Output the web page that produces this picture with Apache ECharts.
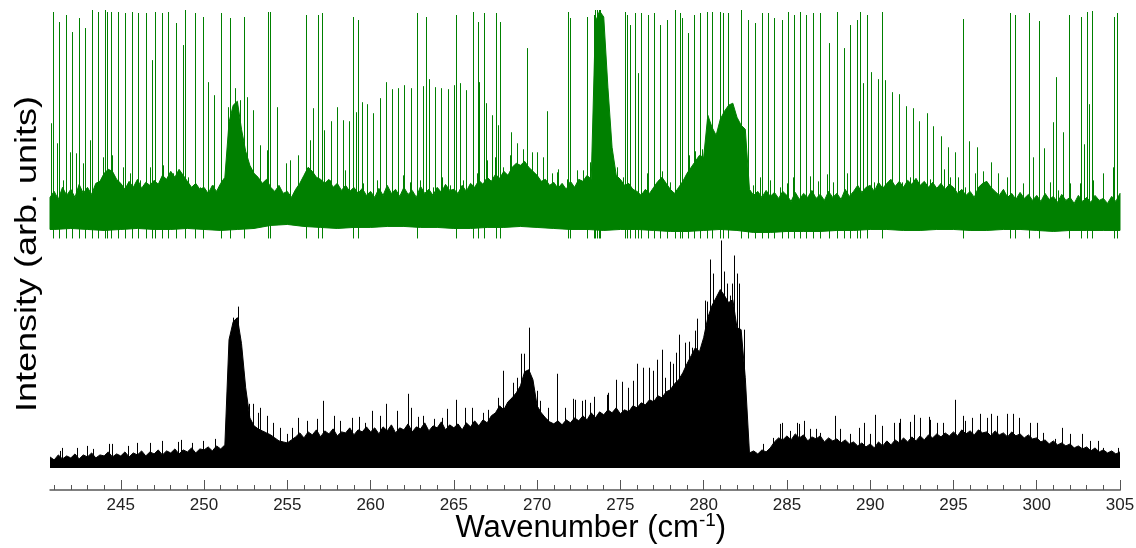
<!DOCTYPE html>
<html>
<head>
<meta charset="utf-8">
<script src="https://cdn.jsdelivr.net/npm/echarts@6/dist/echarts.min.js"></script>
<style>
  html, body { margin: 0; padding: 0; background: #fff; }
  #chart { width: 1136px; height: 548px; }
</style>
</head>
<body>
<div id="chart"></div>
<script>
// Sampling grid of both spectra (cm-1)
const wnStart = 240.75;
const wnStep = 0.25;
const wnEnd = 305;

// Lower spectrum: body of the black trace, one value per 0.25 cm-1
const blackBody = [
  11, 8, 13, 9, 12, 10, 14, 9, 13, 11, 15, 10, 13, 12, 16, 11, 14,
  12, 16, 11, 15, 13, 17, 12, 16, 14, 18, 13, 17, 15, 19, 14, 18, 16, 20, 15, 19,
  18, 21, 17, 22, 19, 23, 128, 146, 150, 124, 80, 50, 42, 39, 37, 35, 33, 30, 27, 26,
  25, 28, 31, 35, 30, 36, 33, 38, 31, 37, 34, 39, 32, 36, 35, 40, 33, 38, 36, 41,
  36, 40, 34, 41, 37, 43, 35, 40, 38, 44, 36, 41, 39, 45, 37, 42, 40, 46, 38, 43,
  40, 44, 38, 45, 41, 47, 42, 48, 45, 52, 55, 62, 58, 66, 70, 75, 82, 96, 98, 88,
  62, 55, 50, 46, 44, 47, 43, 48, 45, 50, 47, 52, 48, 55, 50, 56, 53, 58, 55, 60,
  54, 58, 56, 62, 60, 65, 63, 68, 66, 72, 70, 76, 78, 84, 88, 95, 104, 112, 120, 116,
  130, 150, 162, 170, 178, 172, 165, 168, 140, 138, 90, 15, 17, 14, 18, 16, 20, 26, 30, 28,
  32, 28, 34, 30, 33, 27, 31, 29, 32, 26, 30, 27, 29, 25, 28, 24, 26, 22, 25, 21,
  24, 20, 26, 22, 27, 23, 28, 25, 30, 26, 31, 27, 32, 28, 33, 30, 34, 31, 35, 32,
  36, 32, 38, 34, 37, 33, 38, 35, 36, 32, 37, 33, 35, 31, 36, 32, 34, 30, 33, 29,
  30, 26, 28, 24, 27, 23, 25, 22, 24, 20, 22, 19, 21, 17, 20, 16, 18, 15, 17, 14, 16
];

// Upper spectrum (offset): top of the dense green band, same grid
const greenTop = [
  270, 276, 268, 280, 272, 278, 270, 283, 274, 280, 273, 284, 286, 294, 298, 296, 288,
  284, 278, 286, 280, 288, 279, 285, 282, 287, 283, 292, 288, 296, 290, 298, 292, 286, 280, 284, 278,
  280, 274, 282, 276, 284, 290, 345, 362, 366, 338, 316, 302, 294, 290, 284, 288, 280, 276, 282, 274,
  276, 270, 278, 284, 292, 300, 296, 290, 288, 284, 288, 280, 284, 277, 282, 276, 280, 274, 279, 272,
  276, 270, 279, 272, 282, 274, 278, 271, 280, 273, 277, 270, 281, 274, 278, 272, 280, 275, 283, 277,
  278, 274, 282, 276, 284, 280, 287, 283, 290, 286, 293, 289, 296, 292, 300, 304, 302, 306, 300, 296,
  292, 286, 288, 282, 285, 279, 284, 278, 286, 280, 288, 286, 292, 288, 445, 456, 450, 380, 320, 292,
  288, 282, 284, 278, 276, 272, 278, 274, 280, 286, 290, 284, 278, 274, 280, 286, 294, 300, 306, 312,
  310, 352, 340, 332, 348, 356, 362, 364, 350, 342, 338, 278, 272, 276, 270, 277, 271, 275, 269, 276,
  272, 266, 275, 268, 274, 270, 277, 269, 273, 267, 276, 270, 274, 268, 278, 271, 276, 282, 275, 280,
  282, 276, 285, 279, 284, 288, 281, 286, 280, 287, 283, 289, 282, 286, 280, 285, 279, 284, 278, 283,
  280, 274, 278, 272, 276, 270, 280, 284, 286, 280, 276, 272, 278, 270, 274, 268, 275, 269, 273, 267,
  272, 266, 274, 268, 271, 265, 273, 267, 270, 264, 272, 266, 270, 265, 272, 267, 269, 264, 271, 266, 274
];

// Lower edge of the green band, one value per 1 cm-1 from 241
const greenLowStart = 241;
const greenLow = [
  238, 239, 238, 237, 238, 239, 238, 238, 239, 238, 237, 238, 239,
  242, 243, 241, 240,
  239, 240, 240, 241, 241, 240, 240, 239, 239, 240, 240, 241, 240, 239, 238,
  238, 237, 238, 238, 237, 236, 236, 237, 238, 237, 235, 235, 236, 236, 236, 237,
  237, 238, 238, 237, 237, 238, 238, 237, 237, 238, 238, 237, 236, 237, 237, 237, 237
];

// Where the tall green lines start, and where the shorter ones start
const greenDip = 229;
const greenMidBase = 265;

// Sharp lines of the black trace: [wavenumber, top]
const blackSpikes = [
  [241.35, 17], [241.5, 20], [242.35, 20], [243.0, 22], [243.35, 19], [244.3, 24], [244.45, 24],
  [245.45, 22], [246.0, 25], [246.75, 25], [247.46, 25], [247.5, 27], [248.46, 26], [248.6, 28],
  [249.26, 25], [249.95, 27], [250.66, 29], [251.75, 150], [252.04, 161], [252.7, 64], [252.95, 64],
  [253.25, 55], [253.36, 60], [253.8, 52], [254.15, 45], [254.56, 40], [254.96, 34], [255.26, 40],
  [255.65, 50], [256.17, 47], [256.8, 49], [257.15, 67], [257.8, 52], [258.17, 47], [258.87, 50],
  [259.3, 51], [259.67, 45], [260.1, 57], [260.57, 52], [260.9, 64], [261.57, 57], [262.25, 74],
  [262.4, 60], [262.85, 51], [263.17, 52], [263.8, 49], [264.27, 50], [264.57, 59], [265.1, 68],
  [265.67, 60], [266.1, 60], [266.77, 55], [267.05, 58], [267.67, 70], [267.95, 97], [268.27, 64],
  [268.55, 85], [268.77, 90], [269.05, 114], [269.2, 114], [269.52, 140], [270.0, 77], [270.18, 67],
  [270.68, 60], [271.2, 94], [271.68, 60], [272.18, 69], [272.3, 68], [272.7, 67], [272.88, 68],
  [273.18, 65], [273.4, 71], [274.2, 73], [274.28, 75], [274.75, 88], [275.1, 86], [275.45, 80],
  [275.78, 87], [276.0, 104], [276.38, 100], [276.7, 100], [276.98, 97], [277.2, 108], [277.5, 118],
  [277.68, 90], [278.0, 106], [278.18, 104], [278.35, 115], [278.5, 133], [278.89, 125], [279.1, 126],
  [279.29, 120], [279.5, 137], [279.6, 149], [279.89, 124], [280.09, 167], [280.2, 166], [280.4, 208],
  [280.59, 194], [280.75, 166], [281.05, 227], [281.2, 196], [281.4, 184], [281.6, 172], [281.69, 184],
  [281.85, 212], [281.99, 194], [282.1, 184], [282.4, 138], [283.59, 24], [284.19, 30], [284.59, 44],
  [284.7, 45], [285.19, 37], [285.59, 45], [285.7, 44], [286.0, 47], [286.39, 39], [286.75, 39],
  [286.99, 35], [287.9, 52], [288.19, 39], [288.79, 34], [289.3, 40], [289.6, 45], [290.0, 34],
  [290.3, 53], [290.7, 42], [291.4, 45], [291.75, 45], [291.8, 49], [292.4, 46], [292.65, 53],
  [293.0, 50], [293.55, 51], [293.6, 48], [294.0, 45], [294.4, 45], [295.1, 68], [295.55, 52],
  [295.7, 47], [296.1, 50], [296.6, 54], [297.0, 50], [297.25, 54], [297.6, 52], [298.2, 54],
  [298.6, 54], [298.95, 50], [299.6, 45], [300.0, 45], [300.4, 35], [301.1, 29], [301.5, 40],
  [302.0, 34], [302.7, 34], [303.2, 27], [303.7, 27], [304.0, 20], [304.85, 20]
];

// Tall green lines crossing the whole band: [wavenumber, top]
const greenSpikesFull = [
  [240.95, 455], [241.29, 445], [241.71, 452], [242.09, 435], [242.49, 449], [242.85, 439],
  [243.25, 457], [243.65, 455], [244.05, 457], [244.15, 455], [244.41, 455], [244.85, 455],
  [245.25, 454], [245.66, 455], [246.02, 454], [246.52, 454], [246.89, 407], [247.06, 455],
  [247.46, 454], [247.86, 455], [248.32, 444], [248.86, 457], [249.46, 454], [249.96, 450],
  [251.02, 454], [251.56, 449], [252.4, 450], [253.86, 455], [253.96, 455], [256.11, 452],
  [256.87, 452], [257.07, 454], [258.93, 450], [259.23, 447], [262.81, 454], [265.12, 452],
  [266.17, 455], [266.44, 445], [266.83, 454], [267.54, 454], [267.78, 445], [271.88, 455],
  [271.98, 449], [273.0, 450], [273.4, 452], [273.5, 457], [273.6, 457], [273.7, 457],
  [273.8, 457], [275.28, 455], [275.39, 452], [275.59, 442], [275.89, 454], [276.08, 394],
  [276.25, 454], [276.68, 452], [277.03, 454], [277.39, 442], [277.79, 447], [278.25, 457],
  [278.55, 454], [278.69, 449], [279.03, 434], [279.45, 452], [279.79, 454], [280.23, 455],
  [280.49, 455], [280.99, 455], [281.19, 454], [281.49, 454], [282.23, 457], [282.65, 447],
  [283.09, 444], [283.49, 454], [283.85, 454], [284.25, 449], [284.7, 447], [285.09, 455],
  [285.45, 452], [285.8, 455], [286.16, 452], [286.56, 454], [287.0, 454], [287.5, 424],
  [288.0, 455], [288.4, 419], [288.8, 442], [289.2, 447], [289.4, 455], [289.8, 452],
  [290.7, 455], [295.6, 448], [298.41, 454], [298.71, 452], [299.51, 454], [300.15, 446],
  [301.91, 452], [302.65, 450], [303.01, 455], [303.31, 456], [304.61, 450], [304.81, 454]
];

// Shorter green lines rising out of the band: [wavenumber, top]
const greenSpikesMid = [
  [240.8, 344], [241.15, 324], [241.55, 287], [241.95, 315], [242.31, 314], [242.75, 304],
  [243.15, 327], [243.95, 310], [244.45, 312], [245.15, 300], [245.55, 294], [246.15, 287],
  [246.75, 300], [247.55, 302], [248.15, 294], [248.72, 422], [249.05, 290], [249.35, 282],
  [249.76, 280], [250.26, 385], [250.56, 282], [250.6, 372], [251.06, 285], [251.42, 360],
  [251.86, 379], [252.16, 367], [252.6, 370], [252.96, 357], [253.36, 322], [253.76, 317],
  [254.4, 360], [254.9, 304], [255.16, 307], [255.66, 312], [256.37, 327], [256.53, 359],
  [257.22, 337], [257.57, 287], [257.61, 346], [257.97, 360], [258.33, 347], [258.47, 297],
  [258.73, 346], [259.11, 355], [259.47, 365], [259.57, 284], [259.81, 363], [260.17, 354],
  [260.37, 287], [260.57, 369], [260.93, 385], [261.27, 280], [261.31, 378], [261.67, 379],
  [261.97, 292], [262.03, 382], [262.37, 285], [262.41, 379], [262.97, 287], [263.13, 381],
  [263.31, 450], [263.51, 388], [263.77, 280], [263.87, 380], [264.23, 379], [264.27, 290],
  [264.64, 378], [264.77, 282], [265.01, 382], [265.37, 384], [265.57, 287], [265.73, 377],
  [266.37, 294], [266.53, 385], [266.92, 364], [266.97, 307], [267.28, 352], [267.47, 310],
  [267.64, 342], [267.97, 300], [268.37, 312], [268.44, 335], [268.77, 324], [268.82, 323],
  [269.17, 318], [269.38, 419], [269.67, 315], [270.02, 315], [270.37, 310], [270.58, 356],
  [270.87, 294], [271.18, 295], [271.27, 298], [271.78, 288], [272.38, 297], [272.78, 297],
  [272.98, 299], [273.18, 305], [274.79, 300], [275.18, 290], [276.58, 294], [277.49, 296],
  [277.99, 285], [278.59, 290], [279.09, 312], [279.49, 316], [279.89, 318], [282.59, 290],
  [282.99, 282], [283.39, 290], [283.99, 287], [284.59, 280], [284.99, 284], [285.39, 290],
  [286.39, 291], [286.89, 286], [287.39, 293], [287.79, 285], [288.59, 294], [289.56, 384],
  [290.04, 395], [290.2, 285], [290.46, 388], [290.86, 387], [291.1, 287], [291.3, 375],
  [291.7, 373], [291.9, 285], [292.14, 361], [292.4, 290], [292.56, 359], [292.96, 346],
  [293.4, 354], [293.6, 288], [293.8, 341], [294.25, 331], [294.46, 298], [294.67, 320],
  [294.8, 290], [295.1, 315], [295.3, 290], [295.7, 280], [295.96, 326], [296.3, 294],
  [296.41, 320], [296.8, 296], [297.25, 305], [297.7, 294], [298.2, 290], [299.2, 284],
  [299.77, 310], [300.41, 319], [300.8, 285], [300.97, 345], [301.13, 390], [301.3, 277],
  [301.55, 335], [302.0, 284], [302.6, 284], [302.81, 323], [303.13, 363], [303.4, 287],
  [304.0, 294], [304.6, 300]
];

// Axis: labelled every 5 cm-1, minor ticks every 1 cm-1
const axisMin = 240;
const tickStep = 5;
const minorPerStep = 5;

const wnAt = i => +(wnStart + i * wnStep).toFixed(2);
const FONT = '"Liberation Sans", Arial, sans-serif';
const GREEN = '#008000';

// Vertical line per data item, from a base level up to the item's value
function spikeSeries(name, data, base, color, z) {
  return {
    name, type: 'custom', data, z, silent: true, clip: true,
    renderItem(params, api) {
      const p0 = api.coord([api.value(0), base]);
      const p1 = api.coord([api.value(0), api.value(1)]);
      const x = Math.round(p0[0]) + 0.5;
      return {
        type: 'line',
        shape: { x1: x, y1: p0[1], x2: x, y2: p1[1] },
        style: { stroke: color, lineWidth: 1 }
      };
    }
  };
}

const chart = echarts.init(document.getElementById('chart'), null, { renderer: 'canvas' });

// Plot box: the spectra start at 240.75 cm-1 on the left edge of the frame
const plotLeft = 50, plotRight = 1120;
const pxPerWn = (plotRight - plotLeft) / (wnEnd - wnStart);
const gridLeft = plotLeft - (wnStart - axisMin) * pxPerWn;

chart.setOption({
  animation: false,
  backgroundColor: '#fff',
  grid: { left: gridLeft, right: 1136 - plotRight, top: 10, bottom: 58, containLabel: false, outerBoundsMode: 'none' },
  xAxis: {
    type: 'value', min: axisMin, max: wnEnd, interval: tickStep, position: 'bottom',
    axisLine: { show: true, onZero: false, lineStyle: { color: '#808080', width: 2 } },
    axisTick: { show: true, inside: true, length: 10, lineStyle: { color: '#555', width: 1 } },
    minorTick: { show: true, splitNumber: minorPerStep, length: 5, lineStyle: { color: '#555', width: 1 } },
    axisLabel: {
      show: true, margin: 7, fontSize: 17, color: '#222', fontFamily: FONT,
      formatter: v => (v < wnStart ? '' : String(v))
    },
    splitLine: { show: false },
    name: 'Wavenumber (cm{sup|-1})',
    nameLocation: 'middle',
    nameGap: 21,
    nameMoveOverlap: false,
    nameTextStyle: {
      fontSize: 31, color: '#000', fontFamily: FONT, lineHeight: 34, verticalAlign: 'top',
      padding: [0, 0, 0, 24],
      rich: { sup: { fontSize: 19, fontFamily: FONT, color: '#000', verticalAlign: 'top', lineHeight: 34, padding: [0, 0, 12, 0] } }
    }
  },
  yAxis: {
    type: 'value', min: -22, max: 457,
    axisLine: { show: false }, axisTick: { show: false },
    axisLabel: { show: false }, splitLine: { show: false }
  },
  graphic: [
    {
      // the axis frame begins where the spectra begin
      type: 'rect', z: 100, silent: true,
      shape: { x: gridLeft - 4, y: 470, width: plotLeft - gridLeft + 3.5, height: 30 },
      style: { fill: '#fff' }
    },
    {
      type: 'text',
      x: 28, y: 254,
      rotation: Math.PI / 2,
      scaleX: 1.2,
      style: {
        text: 'Intensity (arb. units)',
        fontSize: 30, fontFamily: FONT, fill: '#000',
        align: 'center', verticalAlign: 'middle'
      }
    }
  ],
  series: [
    {
      name: 'black', type: 'line', z: 2, silent: true,
      symbol: 'none',
      data: blackBody.map((v, i) => [wnAt(i), v]),
      lineStyle: { color: '#000', width: 1 },
      areaStyle: { color: '#000', opacity: 1 }
    },
    spikeSeries('black lines', blackSpikes, 0, '#000', 3),
    {
      name: 'green', type: 'custom', z: 2, silent: true, clip: true,
      data: [[wnStart, 0]],
      renderItem(params, api) {
        const pts = [];
        greenTop.forEach((v, i) => pts.push(api.coord([wnAt(i), v])));
        for (let j = greenLow.length - 1; j >= 0; j--) {
          pts.push(api.coord([greenLowStart + j, greenLow[j]]));
        }
        pts.push(api.coord([wnStart, greenLow[0]]));
        return { type: 'polygon', shape: { points: pts }, style: { fill: GREEN, stroke: GREEN, lineWidth: 1 } };
      }
    },
    spikeSeries('green lines', greenSpikesFull, greenDip, GREEN, 3),
    spikeSeries('green small lines', greenSpikesMid, greenMidBase, GREEN, 3)
  ]
});
</script>
</body>
</html>
